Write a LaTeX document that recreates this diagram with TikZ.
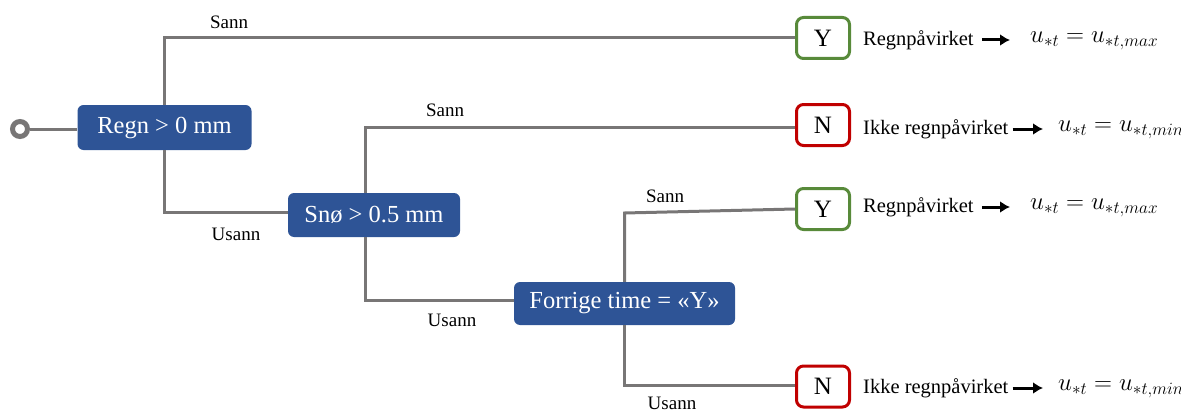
\documentclass[tikz,border=0pt]{standalone}
\usepackage{fontspec}
\setmainfont{Liberation Serif}
\usepackage{amsmath}
\usetikzlibrary{arrows.meta}
\definecolor{boxblue}{RGB}{46,84,150}
\definecolor{linegray}{RGB}{120,118,118}
\definecolor{ygreen}{RGB}{88,138,58}
\definecolor{nred}{RGB}{192,0,0}
\tikzset{
  cond/.style={fill=boxblue, rounded corners=6pt, text=white, inner sep=0pt,
    font=\fontsize{24.5}{26}\selectfont},
  leaf/.style={draw, line width=3pt, fill=white, rounded corners=7pt, inner sep=0pt,
    minimum width=53pt, minimum height=41pt, font=\fontsize{25}{27}\selectfont},
  ybox/.style={leaf, draw=ygreen},
  nbox/.style={leaf, draw=nred},
  conn/.style={draw=linegray, line width=3pt},
  lbl/.style={font=\fontsize{19}{21}\selectfont, inner sep=0pt},
  res/.style={font=\fontsize{20.5}{22}\selectfont, inner sep=0pt, anchor=west},
  mth/.style={font=\fontsize{23}{25}\selectfont, inner sep=0pt, anchor=west},
  arr/.style={line width=3pt, -{Latex[length=10pt,width=12pt]}},
}
\begin{document}
\begin{tikzpicture}[x=1pt,y=-1pt]
\useasboundingbox (0,0) rectangle (1181,412);
% start
\node[circle, draw=linegray, line width=5pt, fill=white, minimum size=15pt, inner sep=0pt] (start) at (20,129) {};
% condition boxes
\node[cond, minimum width=174pt, minimum height=45pt] (regn) at (164.5,127.5) {Regn > 0 mm};
\node[cond, minimum width=172pt, minimum height=44pt] (sno) at (374,215) {Snø > 0.5 mm};
\node[cond, minimum width=221pt, minimum height=43pt] (forr) at (624.5,303.5) {Forrige time = «Y»};
% leaves
\node[ybox] (y1) at (823,38) {Y};
\node[nbox] (n1) at (823,125) {N};
\node[ybox] (y2) at (823,209) {Y};
\node[nbox] (n2) at (823,386.5) {N};
% results
\node[res] (t1) at (863,40) {Regnpåvirket};
\node[mth] (m1) at (1030,41) {$u_{*t} = u_{*t,max}$};
\node[res] (t2) at (863,129) {Ikke regnpåvirket};
\node[mth] (m2) at (1058,130) {$u_{*t} = u_{*t,min}$};
\node[res] (t3) at (863,207) {Regnpåvirket};
\node[mth] (m3) at (1030,208) {$u_{*t} = u_{*t,max}$};
\node[res] (t4) at (863,388) {Ikke regnpåvirket};
\node[mth] (m4) at (1058,389) {$u_{*t} = u_{*t,min}$};
\draw[arr, shorten <=8pt, shorten >=20pt] (t1.east) -- (t1.east -| m1.west);
\draw[arr, shorten <=4pt, shorten >=15pt] (t2.east) -- (t2.east -| m2.west);
\draw[arr, shorten <=8pt, shorten >=20pt] (t3.east) -- (t3.east -| m3.west);
\draw[arr, shorten <=4pt, shorten >=15pt] (t4.east) -- (t4.east -| m4.west);
% connectors
\draw[conn] (start.east) -- (start.east -| regn.west);
\draw[conn] (regn.north) |- (y1.west);
\draw[conn] (regn.south) |- ([yshift=3pt]sno.west);
\draw[conn] ([xshift=-9pt]sno.north) |- ([yshift=-2pt]n1.west);
\draw[conn] ([xshift=-9pt]sno.south) |- ([yshift=3pt]forr.west);
\coordinate (fk) at (forr.north |- 0,213);
\draw[conn] (forr.north) -- (fk) -- (y2.west);
\draw[conn] (forr.south) |- ([yshift=1pt]n2.west);
% labels
\node[lbl] (s1) at (229,22) {Sann};
\node[lbl] (u1) at (236,234) {Usann};
\node[lbl] (s2) at (445,110) {Sann};
\node[lbl] (u2) at (452,320) {Usann};
\node[lbl] (s3) at (665,196) {Sann};
\node[lbl] (u3) at (672,403) {Usann};
\end{tikzpicture}
\end{document}
